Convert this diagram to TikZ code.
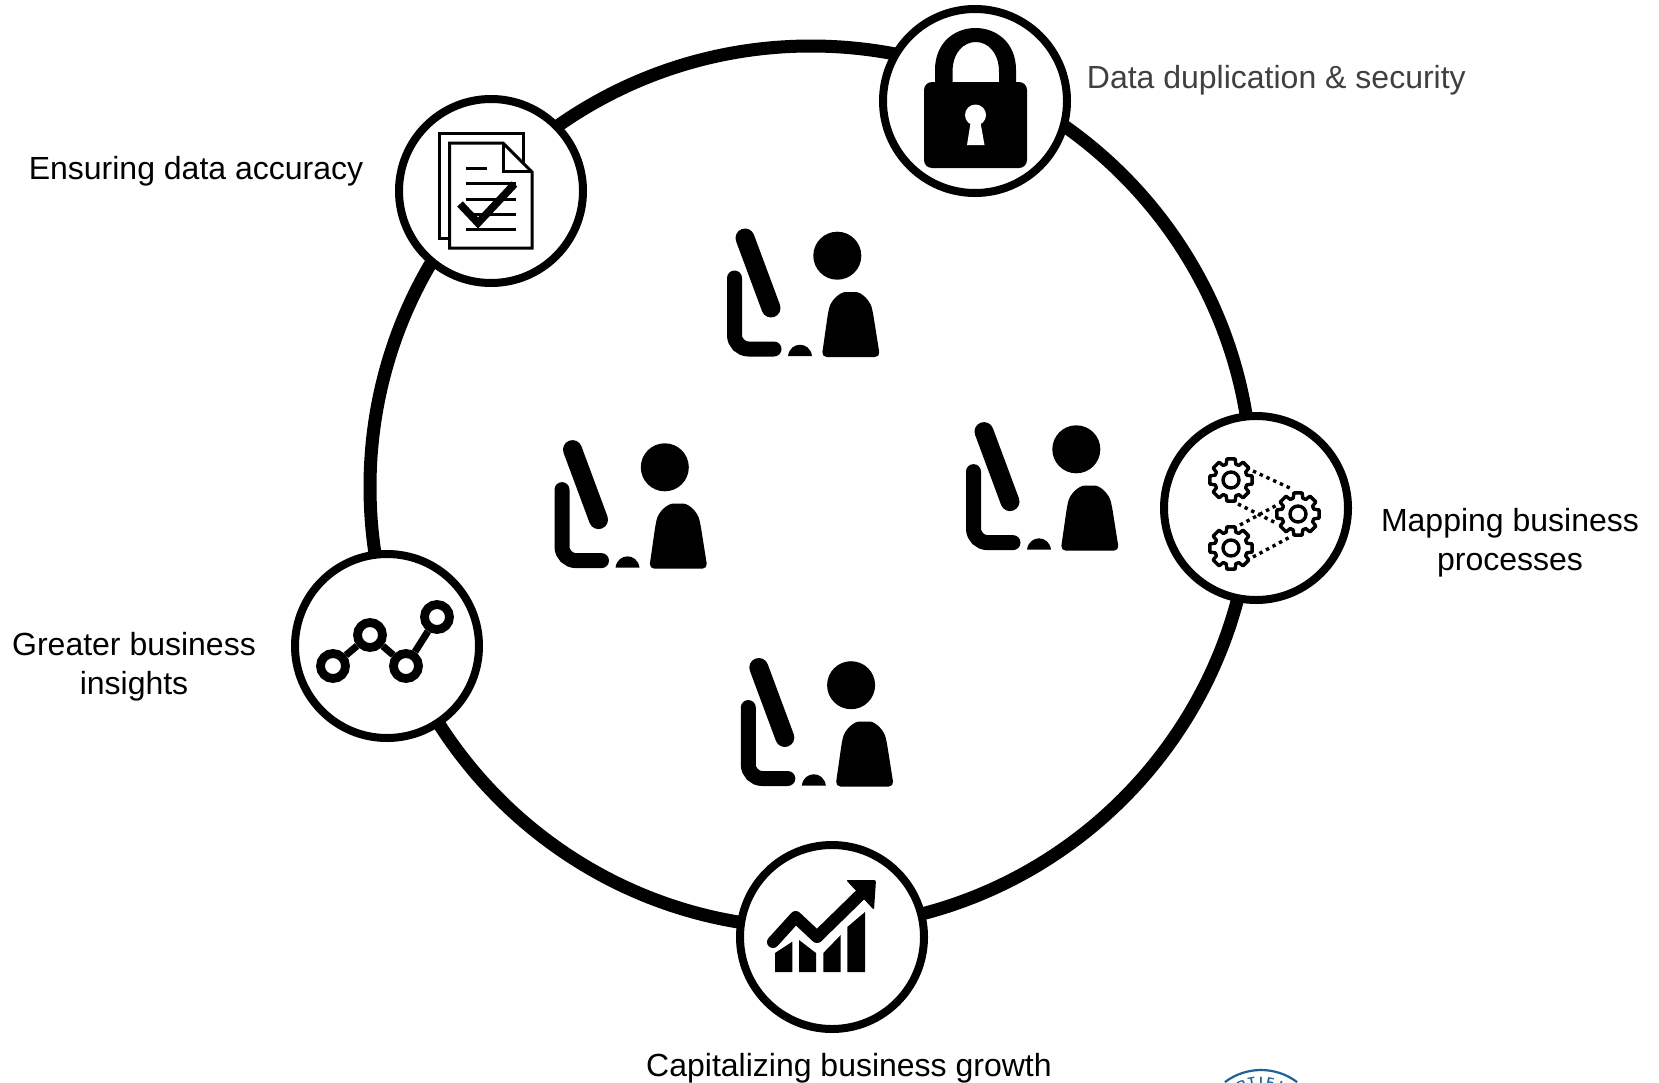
\documentclass[tikz,border=0pt]{standalone}
\usepackage{fontspec}
\setmainfont{Liberation Sans}
\usetikzlibrary{calc}
\definecolor{sealblue}{HTML}{1F6098}
\definecolor{labelgrey}{HTML}{404040}
\tikzset{
  hub/.style={circle,draw,line width=4pt,fill=white,minimum size=92pt,inner sep=0pt},
  label/.style={font=\fontsize{16}{19.5}\selectfont,align=center,inner sep=0pt},
  dot/.style={circle,draw,line width=4.4pt,minimum size=12.5pt,inner sep=0pt},
  desk/.pic={
    \draw[line width=9.5pt,line cap=round] (45,28) -- (71,98);
    \draw[line width=7.5pt,line cap=round,rounded corners=7pt] (34.5,68) -- (34.5,139) -- (74,139);
    \fill (137.3,45.7) circle [radius=24];
    \fill[rounded corners=2.5pt] (121.7,147) -- (128,103) .. controls (131,90) and (140,82) .. (150.7,82)
      .. controls (161,82) and (170,90) .. (173,103) -- (180,147) -- cycle;
    \fill (88,146) .. controls (90,131) and (110,131) .. (112,146) -- cycle;
  },
  gear/.pic={
    \draw[line width=1.7pt,line join=round] (-11:21.5)
      \foreach \a in {0,45,...,315} {
        -- (\a-11:21.5) -- (\a+11:21.5) -- (\a+17:16.5) -- (\a+28:16.5)
      } -- cycle;
    \draw[line width=1.7pt] (0,0) circle [radius=8];
  }
}
\begin{document}
\begin{tikzpicture}[x=0.5pt,y=-0.5pt]
  \path[use as bounding box,clip] (0,0) rectangle (1659,1082);
  \draw[line width=6.5pt] (811,487) circle [radius=441];
  \node[hub] (lock) at (975,101) {};
  \node[hub] (doc) at (491,191) {};
  \node[hub] (gears) at (1256,508) {};
  \node[hub] (graph) at (387,646) {};
  \node[hub] (chart) at (832,937) {};
  \pic at (700,210) {desk};
  \pic at (527.5,421.6) {desk};
  \pic at (939,403.6) {desk};
  \pic at (713.8,639.5) {desk};
  \fill (935,84) -- (935,70) .. controls (935,14) and (1016,14) .. (1016,70) -- (1016,84) -- (999,84) -- (999,72)
    .. controls (999,32) and (952.5,32) .. (952.5,72) -- (952.5,84) -- cycle;
  \fill[rounded corners=4pt] (924,82) -- (1027,82) -- (1027,168) -- (924,168) -- cycle;
  \fill[white] (975.5,115) circle [radius=10.5];
  \fill[white] (971,120) -- (980,120) -- (984.5,145) -- (967,145) -- cycle;
  \draw[line width=1.5pt] (439.5,133) rectangle (523,238);
  \draw[line width=1.5pt,fill=white] (449.5,143) -- (503,143) -- (532,172) -- (532,248) -- (449.5,248) -- cycle;
  \draw[line width=1.5pt] (503,143) -- (503,171) -- (532,171);
  \foreach \ypos in {183,199,214,229} {
    \draw[line width=1.5pt] (465.5,\ypos) -- (516,\ypos);
  }
  \draw[line width=1.5pt] (465.5,168) -- (487,168);
  \draw[line width=3.8pt] (460,204) -- (478,223) -- (514.5,184);
  \pic at (1231,480) {gear};
  \pic at (1298,514) {gear};
  \pic at (1231,548) {gear};
  \draw[line width=1.7pt,dotted] (1253,471) -- (1292,489);
  \draw[line width=1.7pt,dotted] (1238,504) -- (1276,523);
  \draw[line width=1.7pt,dotted] (1240,525) -- (1277,505);
  \draw[line width=1.7pt,dotted] (1253,557) -- (1290,537);
  \node[dot] (g1) at (333,666) {};
  \node[dot] (g2) at (370,635) {};
  \node[dot] (g3) at (406,666) {};
  \node[dot] (g4) at (437,617) {};
  \draw[line width=3.5pt] (g1) -- (g2);
  \draw[line width=3.5pt] (g2) -- (g3);
  \draw[line width=3.5pt] (g3) -- (g4);
  \fill (775,972) -- (775,953) -- (792.3,941.7) -- (792.3,972) -- cycle;
  \fill (799,972) -- (799,940) -- (816,953) -- (816,972) -- cycle;
  \fill (823.3,972) -- (823.3,953) -- (840.7,935) -- (840.7,972) -- cycle;
  \fill (847.3,972) -- (847.3,927) -- (865,912) -- (865,972) -- cycle;
  \draw[line width=6pt,line cap=round,line join=round] (773,942) -- (795.7,917) -- (817,937) -- (860,895);
  \fill[rounded corners=1pt] (846,880) -- (876,880) -- (874,910) -- cycle;
  \node[label] (accuracy) at (196,171) {Ensuring data accuracy};
  \node[label,text=labelgrey,anchor=west] (security) at (1086.5,80) {Data duplication \& security};
  \node[label] (mapping) at (1510,543) {Mapping business\\processes};
  \node[label] (insights) at (134,667) {Greater business\\insights};
  \node[label] (growth) at (849,1068) {Capitalizing business growth};
  \draw[sealblue,line width=1.1pt] (1261,1130) ++(-127:60) arc [start angle=-127,end angle=-53,radius=60];
  \foreach \ch/\a in {R/-113,T/-101,I/-90,F/-79,I/-67} {
    \node[sealblue,font=\fontsize{6}{7}\selectfont\bfseries,inner sep=0pt,rotate={-90-\a}] (seal\a) at ($(1261,1130)+(\a:49)$) {\ch};
  }
\end{tikzpicture}
\end{document}
